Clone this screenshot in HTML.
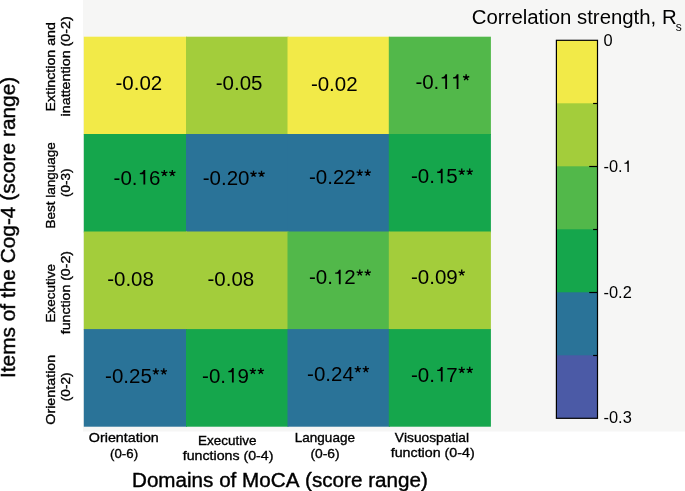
<!DOCTYPE html>
<html><head><meta charset="utf-8">
<style>
html,body{margin:0;padding:0;background:#fff;width:685px;height:491px;overflow:hidden}
svg{display:block;will-change:transform}
text{font-family:"Liberation Sans",sans-serif;fill:#000;font-kerning:none}
.n{font-size:20.5px}
.t{font-size:16.4px}
.h{fill-opacity:0}
.lab{font-size:13px;stroke:#000;stroke-width:0.35px}
.ax{font-size:18.8px;stroke:#000;stroke-width:0.4px}
</style></head><body>
<svg width="685" height="491" viewBox="0 0 685 491">
<defs><path id="ast" fill="none" stroke="#000" stroke-width="66" d="M195,-556 L195,-716 M195,-556 L347.2,-605.4 M195,-556 L42.8,-605.4 M195,-556 L289,-426.6 M195,-556 L101,-426.6"/><path id="one" fill="#000" d="M376,0 L288,0 L288,-507 L112,-507 L112,-570 C210,-575 268,-600 298,-709 L376,-709 Z"/></defs>
<rect x="83" y="0" width="602" height="431.5" fill="#f6f6f5"/>
<!-- heatmap -->
<g>
<rect x="83.8" y="36.7" width="103.2" height="98.3" fill="#f2ea48"/>
<rect x="186" y="36.7" width="102.5" height="98.3" fill="#a3cd3b"/>
<rect x="287.5" y="36.7" width="102.3" height="98.3" fill="#f2ea48"/>
<rect x="388.8" y="36.7" width="102.1" height="98.3" fill="#52b84a"/>
<rect x="83.8" y="134" width="103.2" height="98.5" fill="#15a64c"/>
<rect x="186" y="134" width="102.5" height="98.5" fill="#2a7398"/>
<rect x="287.5" y="134" width="102.3" height="98.5" fill="#2a7398"/>
<rect x="388.8" y="134" width="102.1" height="98.5" fill="#15a64c"/>
<rect x="83.8" y="231.5" width="103.2" height="98.6" fill="#a3cd3b"/>
<rect x="186" y="231.5" width="102.5" height="98.6" fill="#a3cd3b"/>
<rect x="287.5" y="231.5" width="102.3" height="98.6" fill="#52b84a"/>
<rect x="388.8" y="231.5" width="102.1" height="98.6" fill="#a3cd3b"/>
<rect x="83.8" y="329.1" width="103.2" height="97.6" fill="#2a7398"/>
<rect x="186" y="329.1" width="102.5" height="97.6" fill="#15a64c"/>
<rect x="287.5" y="329.1" width="102.3" height="97.6" fill="#2a7398"/>
<rect x="388.8" y="329.1" width="102.1" height="97.6" fill="#15a64c"/>
</g>
<!-- cell numbers -->
<!-- nums -->
<g transform="matrix(1,0,0,1.0,0,0.000)">
<text class="n" id="n0" x="115.5" y="90.10">-0.02</text>
</g>
<g transform="matrix(1,0,0,1.0,0,0.000)">
<text class="n" id="n1" x="215.8" y="90.10">-0.05</text>
</g>
<g transform="matrix(1,0,0,1.0,0,0.000)">
<text class="n" id="n2" x="310.9" y="90.80">-0.02</text>
</g>
<g transform="matrix(1,0,0,1.0,0,0.000)">
<text class="n" id="n3" x="415.4" y="88.90">-0.<tspan class="h">1</tspan><tspan class="h">1</tspan><tspan class="h">*</tspan></text>
<use href="#one" transform="translate(439.34,88.90) scale(0.0205)"/>
<use href="#one" transform="translate(450.74,88.90) scale(0.0205)"/>
<use href="#ast" transform="translate(462.15,88.90) scale(0.0205)"/>
</g>
<g transform="matrix(1,0,0,1.0,0,0.000)">
<text class="n" id="n4" x="113.6" y="184.60">-0.<tspan class="h">1</tspan>6<tspan class="h">*</tspan><tspan class="h">*</tspan></text>
<use href="#one" transform="translate(137.54,184.60) scale(0.0205)"/>
<use href="#ast" transform="translate(160.35,184.60) scale(0.0205)"/>
<use href="#ast" transform="translate(168.33,184.60) scale(0.0205)"/>
</g>
<g transform="matrix(1,0,0,1.0,0,0.000)">
<text class="n" id="n5" x="202.8" y="185.40">-0.20<tspan class="h">*</tspan><tspan class="h">*</tspan></text>
<use href="#ast" transform="translate(249.53,185.40) scale(0.0205)"/>
<use href="#ast" transform="translate(257.52,185.40) scale(0.0205)"/>
</g>
<g transform="matrix(1,0,0,1.0,0,0.000)">
<text class="n" id="n6" x="309" y="184.30">-0.22<tspan class="h">*</tspan><tspan class="h">*</tspan></text>
<use href="#ast" transform="translate(355.73,184.30) scale(0.0205)"/>
<use href="#ast" transform="translate(363.72,184.30) scale(0.0205)"/>
</g>
<g transform="matrix(1,0,0,1.0,0,0.000)">
<text class="n" id="n7" x="411" y="183.30">-0.<tspan class="h">1</tspan>5<tspan class="h">*</tspan><tspan class="h">*</tspan></text>
<use href="#one" transform="translate(434.94,183.30) scale(0.0205)"/>
<use href="#ast" transform="translate(457.75,183.30) scale(0.0205)"/>
<use href="#ast" transform="translate(465.73,183.30) scale(0.0205)"/>
</g>
<g transform="matrix(1,0,0,1.0,0,0.000)">
<text class="n" id="n8" x="107.2" y="285.50">-0.08</text>
</g>
<g transform="matrix(1,0,0,1.0,0,0.000)">
<text class="n" id="n9" x="207.5" y="286.30">-0.08</text>
</g>
<g transform="matrix(1,0,0,1.0,0,0.000)">
<text class="n" id="n10" x="309" y="284.20">-0.<tspan class="h">1</tspan>2<tspan class="h">*</tspan><tspan class="h">*</tspan></text>
<use href="#one" transform="translate(332.94,284.20) scale(0.0205)"/>
<use href="#ast" transform="translate(355.75,284.20) scale(0.0205)"/>
<use href="#ast" transform="translate(363.73,284.20) scale(0.0205)"/>
</g>
<g transform="matrix(1,0,0,1.0,0,0.000)">
<text class="n" id="n11" x="411" y="284.20">-0.09<tspan class="h">*</tspan></text>
<use href="#ast" transform="translate(457.73,284.20) scale(0.0205)"/>
</g>
<g transform="matrix(1,0,0,1.0,0,0.000)">
<text class="n" id="n12" x="105.1" y="383.00">-0.25<tspan class="h">*</tspan><tspan class="h">*</tspan></text>
<use href="#ast" transform="translate(151.83,383.00) scale(0.0205)"/>
<use href="#ast" transform="translate(159.82,383.00) scale(0.0205)"/>
</g>
<g transform="matrix(1,0,0,1.0,0,0.000)">
<text class="n" id="n13" x="202.1" y="382.60">-0.<tspan class="h">1</tspan>9<tspan class="h">*</tspan><tspan class="h">*</tspan></text>
<use href="#one" transform="translate(226.04,382.60) scale(0.0205)"/>
<use href="#ast" transform="translate(248.85,382.60) scale(0.0205)"/>
<use href="#ast" transform="translate(256.83,382.60) scale(0.0205)"/>
</g>
<g transform="matrix(1,0,0,1.0,0,0.000)">
<text class="n" id="n14" x="307.1" y="380.80">-0.24<tspan class="h">*</tspan><tspan class="h">*</tspan></text>
<use href="#ast" transform="translate(353.83,380.80) scale(0.0205)"/>
<use href="#ast" transform="translate(361.82,380.80) scale(0.0205)"/>
</g>
<g transform="matrix(1,0,0,1.0,0,0.000)">
<text class="n" id="n15" x="411" y="381.50">-0.<tspan class="h">1</tspan>7<tspan class="h">*</tspan><tspan class="h">*</tspan></text>
<use href="#one" transform="translate(434.94,381.50) scale(0.0205)"/>
<use href="#ast" transform="translate(457.75,381.50) scale(0.0205)"/>
<use href="#ast" transform="translate(465.73,381.50) scale(0.0205)"/>
</g>
<!-- /nums -->
<!-- colorbar -->
<g>
<rect x="556.4" y="40.3" width="41.1" height="64.0" fill="#f2ea48"/>
<rect x="556.4" y="103.3" width="41.1" height="64.0" fill="#a3cd3b"/>
<rect x="556.4" y="166.3" width="41.1" height="64.0" fill="#52b84a"/>
<rect x="556.4" y="229.3" width="41.1" height="64.0" fill="#15a64c"/>
<rect x="556.4" y="292.3" width="41.1" height="64.0" fill="#2a7398"/>
<rect x="556.4" y="355.3" width="41.1" height="63.0" fill="#4b5aa6"/>
</g>
<rect x="556.4" y="40.3" width="41.1" height="378.0" fill="none" stroke="#000" stroke-width="1.2"/>
<g stroke="#000" stroke-width="1.2">
<line x1="593.1" y1="103.5" x2="597.5" y2="103.5"/>
<line x1="589.2" y1="166.5" x2="597.5" y2="166.5"/>
<line x1="593.1" y1="229.5" x2="597.5" y2="229.5"/>
<line x1="589.2" y1="292.5" x2="597.5" y2="292.5"/>
<line x1="593.1" y1="355.5" x2="597.5" y2="355.5"/>
</g>
<text class="t" x="603.5" y="46">0</text>
<text class="t" x="603.5" y="172.1">-0.<tspan class="h">1</tspan></text>
<text class="t" x="603.5" y="298.2">-0.2</text>
<text class="t" x="603.5" y="423.3">-0.3</text>
<text x="471.8" y="23.6" style="font-size:19.5px" textLength="204.8" lengthAdjust="spacingAndGlyphs">Correlation strength, R</text>
<text x="675.8" y="30.9" style="font-size:12px">s</text>
<text class="ax" style="font-size:19.4px" x="132" y="486.6" textLength="295.8" lengthAdjust="spacingAndGlyphs">Domains of MoCA (score range)</text>
<text class="ax" style="font-size:19.8px" transform="translate(14.95,378) rotate(-90)" textLength="301.2" lengthAdjust="spacingAndGlyphs">Items of the Cog-4 (score range)</text>
<!-- ones -->
<use href="#one" transform="translate(622.64,172.10) scale(0.0164)"/>
<!-- /ones -->
<!-- labels -->
<text class="lab" style="font-size:13.2px" x="88.87" y="442.0" textLength="69.94" lengthAdjust="spacingAndGlyphs">Orientation</text>
<text class="lab" style="font-size:13.2px" x="110.09" y="457.6" textLength="27.98" lengthAdjust="spacingAndGlyphs">(0-6)</text>
<text class="lab" style="font-size:13.2px" x="198.04" y="445.1" textLength="58.38" lengthAdjust="spacingAndGlyphs">Executive</text>
<text class="lab" style="font-size:13.2px" x="182.72" y="460.1" textLength="90.74" lengthAdjust="spacingAndGlyphs">functions (0-4)</text>
<text class="lab" style="font-size:13.2px" x="294.86" y="442.2" textLength="60.04" lengthAdjust="spacingAndGlyphs">Language</text>
<text class="lab" style="font-size:13.2px" x="310.43" y="457.5" textLength="29.28" lengthAdjust="spacingAndGlyphs">(0-6)</text>
<text class="lab" style="font-size:13.2px" x="394.83" y="442.1" textLength="74.12" lengthAdjust="spacingAndGlyphs">Visuospatial</text>
<text class="lab" style="font-size:13.2px" x="390.72" y="456.6" textLength="83.91" lengthAdjust="spacingAndGlyphs">function (0-4)</text>
<text class="lab" style="font-size:13.6px" transform="translate(55.1,111.40) rotate(-90)" textLength="89.26" lengthAdjust="spacingAndGlyphs">Extinction and</text>
<text class="lab" style="font-size:13.6px" transform="translate(70.3,116.48) rotate(-90)" textLength="100.33" lengthAdjust="spacingAndGlyphs">inattention (0-2)</text>
<text class="lab" style="font-size:13.6px" transform="translate(55.4,228.61) rotate(-90)" textLength="86.29" lengthAdjust="spacingAndGlyphs">Best language</text>
<text class="lab" style="font-size:13.6px" transform="translate(70.3,196.92) rotate(-90)" textLength="28.48" lengthAdjust="spacingAndGlyphs">(0-3)</text>
<text class="lab" style="font-size:13.6px" transform="translate(55.0,322.48) rotate(-90)" textLength="58.44" lengthAdjust="spacingAndGlyphs">Executive</text>
<text class="lab" style="font-size:13.6px" transform="translate(70.2,334.21) rotate(-90)" textLength="83.17" lengthAdjust="spacingAndGlyphs">function (0-2)</text>
<text class="lab" style="font-size:13.6px" transform="translate(55.2,424.74) rotate(-90)" textLength="69.98" lengthAdjust="spacingAndGlyphs">Orientation</text>
<text class="lab" style="font-size:13.6px" transform="translate(70.3,401.19) rotate(-90)" textLength="28.70" lengthAdjust="spacingAndGlyphs">(0-2)</text>
<!-- /labels -->
</svg>
</body></html>
